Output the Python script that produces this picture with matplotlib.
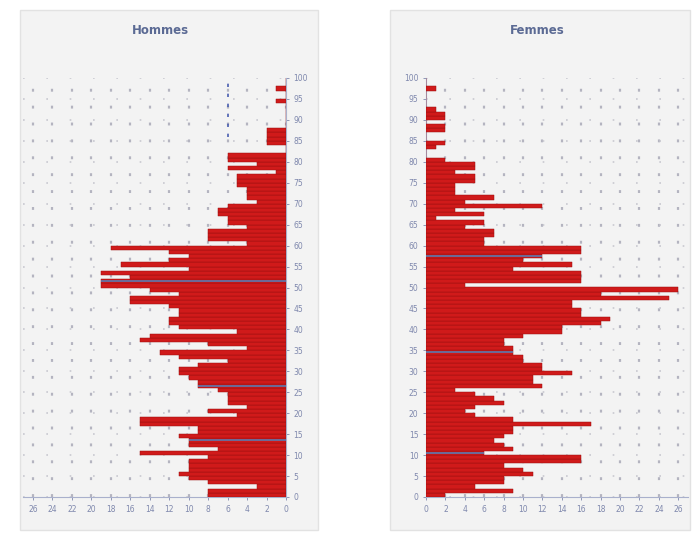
import numpy as np
import matplotlib.pyplot as plt
from matplotlib.patches import Rectangle

ages = np.arange(0, 101)

hommes = [8, 8, 3, 8, 10, 11, 10, 10, 10, 8,
          15, 7, 10, 10, 11, 9, 9, 15, 15, 5,
          8, 4, 6, 6, 6, 7, 9, 9, 10, 11,
          11, 9, 6, 11, 13, 4, 8, 15, 14, 5,
          11, 12, 12, 11, 11, 12, 16, 16, 11, 14,
          19, 19, 16, 19, 10, 17, 12, 10, 12, 18,
          4, 8, 8, 8, 4, 6, 6, 7, 7, 6,
          3, 4, 4, 4, 5, 5, 5, 1, 6, 3,
          6, 6, 0, 0, 2, 2, 2, 2, 0, 0,
          0, 0, 0, 0, 1, 0, 0, 1, 0, 0,
          0]

femmes = [2, 9, 5, 8, 8, 11, 10, 8, 16, 16,
          6, 9, 8, 7, 8, 9, 9, 17, 9, 5,
          4, 5, 8, 7, 5, 3, 12, 11, 11, 15,
          12, 12, 10, 10, 9, 9, 8, 8, 10, 14,
          14, 18, 19, 16, 16, 15, 15, 25, 18, 26,
          4, 16, 16, 16, 9, 15, 10, 12, 16, 16,
          6, 6, 7, 7, 4, 6, 1, 6, 3, 12,
          4, 7, 3, 3, 3, 5, 5, 3, 5, 5,
          2, 0, 0, 1, 2, 0, 0, 2, 2, 0,
          2, 2, 1, 0, 0, 0, 0, 1, 0, 0,
          0]

# âges où une ligne bleue traverse la barre sur le document
lignes_h = [13, 26, 51]
lignes_f = [10, 34, 57]

xticks = np.arange(0, 27, 2)
yticks = np.arange(0, 101, 5)

rouge = '#d01a1a'
bord = '#9a1010'
bleu_txt = '#7f88ad'

fig = plt.figure(figsize=(6.93, 5.33), dpi=100)
W, H = 693, 533

# fonds gris des deux panneaux
for x0, x1 in [(20, 318), (390, 690)]:
    fig.patches.append(Rectangle((x0 / W, 1 - 530 / H), (x1 - x0) / W, 520 / H,
                                 transform=fig.transFigure, facecolor='#f3f3f3',
                                 edgecolor='#e2e2e2', zorder=-5))

ax_h = fig.add_axes([23.3 / W, 1 - 497 / H, 262.7 / W, 419 / H])
ax_f = fig.add_axes([426 / W, 1 - 497 / H, 262 / W, 419 / H])

for ax, vals, lignes in [(ax_h, hommes, lignes_h), (ax_f, femmes, lignes_f)]:
    ax.set_facecolor('none')
    ax.set_zorder(2)
    ax.barh(ages, vals, height=1, align='edge', color=rouge,
            edgecolor=bord, linewidth=0.35, zorder=3)
    for a in lignes:
        ax.hlines(a + 0.5, 0, vals[a], color='#5a7ab0', linewidth=1.2, zorder=4)
    ax.set_ylim(0, 100)
    ax.set_yticks(yticks)
    ax.set_xticks(xticks)
    # quadrillage en points, surtout visible sur les colonnes
    ax.grid(True, axis='x', color='#b4b4c0', linestyle=(0, (1.3, 6.3)),
            linewidth=1.6, zorder=1)
    ax.grid(True, axis='y', color='#c8c8d0', linestyle=(0, (1, 13)),
            linewidth=1.2, zorder=1)
    ax.tick_params(labelsize=5.5, colors=bleu_txt, length=2, width=0.6)
    for s in ax.spines.values():
        s.set_visible(False)
    ax.spines['bottom'].set_visible(True)
    ax.spines['bottom'].set_color('#a9b0cc')

ax_h.set_xlim(27, 0)
ax_h.yaxis.tick_right()
ax_h.spines['right'].set_visible(True)
ax_h.spines['right'].set_color('#a9b0cc')
# pointillés bleus de la colonne 6 en haut du panneau hommes
ax_h.vlines(6, 86, 100, color='#4a5fb0', linestyle=(0, (2, 4)), linewidth=1.2, zorder=2)

ax_f.set_xlim(0, 27)
ax_f.spines['left'].set_visible(True)
ax_f.spines['left'].set_color('#a9b0cc')

fig.text(160 / W, 1 - 30 / H, 'Hommes', ha='center', va='center',
         fontsize=8.5, fontweight='bold', color='#5b6a94')
fig.text(537 / W, 1 - 30 / H, 'Femmes', ha='center', va='center',
         fontsize=8.5, fontweight='bold', color='#5b6a94')

fig.savefig('out.png', dpi=100, facecolor='white')
